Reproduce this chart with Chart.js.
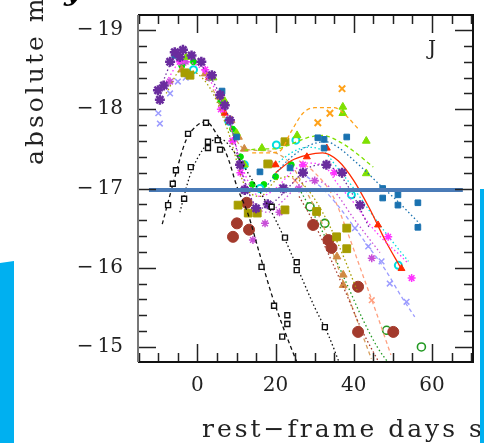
<!DOCTYPE html>
<html>
<head>
<meta charset="utf-8">
<script src="https://cdn.jsdelivr.net/npm/chart.js@4.4.0/dist/chart.umd.min.js"></script>
<style>
  html, body { margin: 0; padding: 0; background: #fff; }
  #wrap { position: relative; width: 484px; height: 443px; }
</style>
</head>
<body>
<div id="wrap"><canvas id="lcChart"></canvas></div>
<script>
// J band light curves: absolute mag vs rest-frame days
var xTickLabels = [0, 20, 40, 60];
var yTickLabels = [-19, -18, -17, -16, -15];

var refLineDays = [-12.4, 67.9];
var refLineMags = [-16.98, -16.98];

var blackADays = [-7.5, -6.3, -5.5, -2.4, 2.2, 16.4, 19.6, 23.0, 23.0, 21.7];
var blackAMags = [-16.79, -17.06, -17.23, -17.69, -17.83, -16.01, -15.52, -15.40, -15.29, -15.13];
var blackAFitDays = [-9, -6, -3, 0, 2.2, 5, 8, 10, 13, 16, 19, 22, 25.5];
var blackAFitMags = [-16.55, -17.1, -17.6, -17.8, -17.84, -17.68, -17.36, -17.04, -16.67, -16.16, -15.66, -15.24, -14.8];

var blackBDays = [-3.4, -1.7, 2.7, 2.7, 5.2, 5.8, 19.0, 22.4, 25.4, 25.4, 32.6];
var blackBMags = [-16.87, -17.27, -17.51, -17.59, -17.61, -17.49, -16.77, -16.38, -16.07, -15.97, -15.25];
var blackBFitDays = [-4.5, -2, 0, 3, 6, 10, 14, 18, 22, 26, 30, 33.5, 36.3];
var blackBFitMags = [-16.7, -17.15, -17.38, -17.58, -17.62, -17.42, -17.11, -16.79, -16.4, -15.95, -15.5, -15.15, -14.8];

var purpleDays = [-10.1, -9.6, -8.6, -7, -5.8, -4.5, -3.7, -1.5, 1, 3.7, 5.8, 7, 8.3, 10.9, 12.1, 15, 18, 22, 27, 33, 37, 41.6];
var purpleMags = [-18.24, -18.12, -18.3, -18.6, -18.72, -18.66, -18.75, -18.68, -18.6, -18.43, -18.18, -18.05, -17.86, -17.3, -16.98, -16.75, -16.8, -17.0, -17.2, -17.3, -17.2, -16.79];
var purpleFitDays = [-10, -6, -3, 0, 4, 8, 12, 16, 20, 24, 28, 32, 36, 40, 44];
var purpleFitMags = [-18.2, -18.65, -18.72, -18.6, -18.35, -17.9, -17.1, -16.75, -16.85, -17.05, -17.25, -17.3, -17.2, -16.9, -16.5];

var blueDays = [-5.8, 6.3, 10.0, 16, 23.7, 30.8, 32.4, 32.4, 38.2, 47.4, 47.4, 51.3, 51.3, 56.4, 56.4];
var blueMags = [-18.68, -18.23, -17.65, -17.21, -17.26, -17.64, -17.62, -17.51, -17.65, -17.0, -16.88, -16.92, -16.79, -16.82, -16.51];
var blueFitDays = [18, 22, 26, 30, 33, 36, 39, 43, 47, 51, 55, 57];
var blueFitMags = [-17.05, -17.3, -17.47, -17.57, -17.59, -17.52, -17.4, -17.22, -17.03, -16.85, -16.65, -16.55];

var orangeDays = [30.8, 33.9, 37.0];
var orangeMags = [-17.83, -17.95, -18.26];
var orangeFitDays = [14, 18, 21, 24, 27, 30, 35, 38, 41];
var orangeFitMags = [-17.45, -17.45, -17.47, -17.72, -17.95, -18.02, -18.02, -17.92, -17.76];

var limeDays = [-2.9, 4, 7, 10, 12, 16.5, 25.5, 37.2, 37.2, 43.2, 43.2];
var limeMags = [-18.66, -18.4, -18.1, -17.7, -17.3, -17.51, -17.67, -18.03, -17.95, -17.6, -17.19];
var limeFitDays = [12, 16, 20, 24, 28, 32, 36, 40, 45];
var limeFitMags = [-17.48, -17.5, -17.5, -17.56, -17.64, -17.67, -17.6, -17.47, -17.27];

var oliveDays = [-3.2, -1.9, 10.4, 13.0, 15.3, 18.0, 22.4, 22.4, 30.5, 35.6, 38.2, 38.2];
var oliveMags = [-18.46, -18.43, -16.79, -16.69, -16.69, -17.31, -17.59, -16.73, -16.71, -16.39, -16.5, -16.24];
var oliveFitDays = [-8, -4, 0, 4, 8, 12, 16, 20, 24, 28, 32, 36, 40.8];
var oliveFitMags = [-18.2, -18.5, -18.45, -18.2, -17.7, -17.05, -16.9, -17.1, -17.15, -17.0, -16.7, -16.3, -15.72];

var brownDays = [9.1, 10.1, 13.2, 12.6, 29.6, 33.5, 34.3, 41.1, 41.1, 50.1];
var brownMags = [-16.39, -16.56, -16.48, -16.82, -16.54, -16.35, -16.25, -15.76, -15.19, -15.19];
var brownFitDays = [26, 30, 34, 38, 42, 46.5];
var brownFitMags = [-16.9, -16.55, -16.12, -15.68, -15.22, -14.8];

var magentaDays = [-4.5, 2, 6, 9, 11, 27, 35, 48.8, 54.8];
var magentaMags = [-18.6, -18.5, -18.0, -17.6, -17.2, -17.3, -17.2, -16.39, -15.87];
var magentaFitDays = [-8, -4, 0, 4, 8, 12, 16, 20, 24, 28, 32, 36, 40, 44, 48, 52, 54];
var magentaFitMags = [-18.35, -18.6, -18.55, -18.3, -17.85, -17.2, -16.9, -17.0, -17.2, -17.32, -17.3, -17.05, -16.82, -16.55, -16.33, -16.15, -16.05];

var orchidDays = [-7, -3, 3, 9, 12, 14.2, 17.3, 21, 26, 30, 44.6];
var orchidMags = [-18.35, -18.6, -18.4, -17.6, -17.0, -16.35, -16.56, -16.7, -17.0, -17.1, -16.12];
var orchidFitDays = [10, 14, 18, 22, 26, 30, 34.7, 40, 46.7];
var orchidFitMags = [-17.45, -16.85, -16.7, -16.85, -17.05, -17.1, -16.98, -16.62, -16.19];

var redDays = [3, 7, 20, 28, 33.1, 46.2, 52.2];
var redMags = [-18.4, -17.95, -17.3, -17.4, -17.51, -16.54, -15.99];
var redFitDays = [20, 24, 28, 32, 36, 40, 44, 48, 52];
var redFitMags = [-17.2, -17.35, -17.42, -17.45, -17.35, -17.1, -16.75, -16.35, -16.0];

var cyanDays = [-1, 8, 12, 16, 20.2, 25.2, 39.4, 51.4];
var cyanMags = [-18.5, -17.85, -17.3, -17.0, -17.55, -17.61, -16.92, -16.03];
var cyanFitDays = [20, 24, 28, 32, 36, 40, 44, 48, 52, 54];
var cyanFitMags = [-17.3, -17.45, -17.52, -17.48, -17.25, -17.0, -16.72, -16.45, -16.2, -16.08];

var lavDays = [-10, -9.6, -7, -5, -3, 40.3, 43.7, 47.1, 49.2, 53.5];
var lavMags = [-17.95, -17.82, -18.2, -18.35, -18.4, -16.5, -16.27, -16.08, -15.8, -15.57];
var lavFitDays = [28, 32, 36, 40, 44, 48, 52, 55.6];
var lavFitMags = [-17.15, -17.0, -16.78, -16.52, -16.25, -15.98, -15.65, -15.38];

var peruDays = [-4, 2, 6, 8.6, 10.5, 12, 19, 35.7, 37.3, 37.3];
var peruMags = [-18.5, -18.45, -18.15, -17.86, -17.65, -17.5, -17.3, -16.14, -15.91, -15.78];
var peruFitDays = [4, 8, 12, 16, 20, 24, 28, 32, 36, 40, 44.5];
var peruFitMags = [-18.25, -17.8, -17.5, -17.48, -17.45, -17.3, -16.95, -16.55, -16.0, -15.45, -14.85];

var salmonDays = [25, 44.6];
var salmonMags = [-17.1, -15.59];
var salmonFitDays = [26, 30, 34.7, 38, 42, 46, 49.5];
var salmonFitMags = [-17.35, -17.2, -16.9, -16.5, -15.95, -15.4, -14.9];

var greenDays = [28.8, 32.6, 48.4, 57.3];
var greenMags = [-16.77, -16.56, -15.21, -15.0];
var greenFitDays = [26, 30, 34, 38, 42, 46, 48.8];
var greenFitMags = [-17.0, -16.65, -16.25, -15.82, -15.38, -15.0, -14.8];

var brightDays = [-4, -1, 3, 6, 9, 11, 14, 17, 20, 24];
var brightMags = [-18.55, -18.6, -18.4, -18.1, -17.75, -17.4, -17.05, -17.05, -17.15, -17.3];

function pts(days, mags) {
    var out = [];
    for (var i = 0; i < days.length; i++) {
        out.push({x: days[i], y: mags[i]});
    }
    return out;
}

function markSet(days, mags, style, color, fill, r, bw) {
    return {
        data: pts(days, mags),
        showLine: false,
        pointStyle: style,
        pointRadius: r,
        borderColor: color,
        backgroundColor: fill,
        borderWidth: bw
    };
}

function fitLine(days, mags, color, dash) {
    return {
        data: pts(days, mags),
        showLine: true,
        borderColor: color,
        borderWidth: 1.3,
        borderDash: dash,
        pointRadius: 0,
        fill: false,
        cubicInterpolationMode: 'monotone'
    };
}

var DASH = [4, 3], DOT = [1.5, 2.5];

var datasets = [
    {data: pts(refLineDays, refLineMags), showLine: true, borderColor: '#4a7bb7', borderWidth: 4, pointRadius: 0},
    markSet(blackADays, blackAMags, 'rect', '#111', '#fff', 3.5, 1.4),
    fitLine(blackAFitDays, blackAFitMags, '#111', DASH),
    markSet(blackBDays, blackBMags, 'rect', '#111', '#fff', 3.5, 1.4),
    fitLine(blackBFitDays, blackBFitMags, '#111', DOT),
    markSet(purpleDays, purpleMags, 'star', '#6a2c9e', '#6a2c9e', 5, 2.5),
    fitLine(purpleFitDays, purpleFitMags, '#6a2c9e', DOT),
    markSet(blueDays, blueMags, 'rect', '#1a72b0', '#1a72b0', 4, 1),
    fitLine(blueFitDays, blueFitMags, '#1a72b0', DOT),
    markSet(orangeDays, orangeMags, 'crossRot', '#ffa21a', '#ffa21a', 4.5, 2),
    fitLine(orangeFitDays, orangeFitMags, '#ffa21a', DASH),
    markSet(limeDays, limeMags, 'triangle', '#7ee000', '#7ee000', 4.5, 1),
    fitLine(limeFitDays, limeFitMags, '#7ee000', DASH),
    markSet(oliveDays, oliveMags, 'rect', '#a69d00', '#a69d00', 5.5, 1),
    fitLine(oliveFitDays, oliveFitMags, '#a69d00', DOT),
    markSet(brownDays, brownMags, 'circle', '#a33a2c', '#a33a2c', 5.5, 1),
    fitLine(brownFitDays, brownFitMags, '#a33a2c', DOT),
    markSet(magentaDays, magentaMags, 'star', '#ff33ff', '#ff33ff', 4, 1.5),
    fitLine(magentaFitDays, magentaFitMags, '#ff33ff', DOT),
    markSet(orchidDays, orchidMags, 'star', '#c84fd8', '#c84fd8', 4, 1.5),
    fitLine(orchidFitDays, orchidFitMags, '#c84fd8', DOT),
    markSet(redDays, redMags, 'triangle', '#ff2a00', '#ff2a00', 4, 1),
    fitLine(redFitDays, redFitMags, '#ff2a00', []),
    markSet(cyanDays, cyanMags, 'circle', '#00dede', '#fff', 3.5, 2),
    fitLine(cyanFitDays, cyanFitMags, '#00dede', DOT),
    markSet(lavDays, lavMags, 'crossRot', '#9c9cff', '#9c9cff', 4, 1.5),
    fitLine(lavFitDays, lavFitMags, '#9c9cff', DASH),
    markSet(peruDays, peruMags, 'triangle', '#d08a42', '#d08a42', 4.5, 1),
    fitLine(peruFitDays, peruFitMags, '#d8a060', DASH),
    markSet(salmonDays, salmonMags, 'crossRot', '#ffa080', '#ffa080', 4, 1.5),
    fitLine(salmonFitDays, salmonFitMags, '#ffa080', DASH),
    markSet(greenDays, greenMags, 'circle', '#229922', '#fff', 4, 1.6),
    fitLine(greenFitDays, greenFitMags, '#229922', DOT),
    markSet(brightDays, brightMags, 'circle', '#00e000', '#00e000', 3, 1)
];

// frame, inward ticks, axis titles and the overlay bars
var decorations = {
    id: 'decorations',
    afterDraw: function(chart) {
        var ctx = chart.ctx,
            a = chart.chartArea,
            xs = chart.scales.x,
            ys = chart.scales.y;
        ctx.save();

        ctx.lineWidth = 1.5;
        ctx.strokeStyle = '#222';
        for (var d = -15; d <= 70; d += 5) {
            var px = Math.round(xs.getPixelForValue(d)) + 0.5;
            var len = d % 20 === 0 ? 18 : 9;
            ctx.beginPath();
            ctx.moveTo(px, a.top); ctx.lineTo(px, a.top + len);
            ctx.moveTo(px, a.bottom); ctx.lineTo(px, a.bottom - len);
            ctx.stroke();
        }
        for (var k = -95; k <= -75; k++) {
            var py = Math.round(ys.getPixelForValue(k / 5)) + 0.5;
            var ylen = k % 5 === 0 ? 18 : 9;
            ctx.beginPath();
            ctx.moveTo(a.left, py); ctx.lineTo(a.left + ylen, py);
            ctx.moveTo(a.right, py); ctx.lineTo(a.right - ylen, py);
            ctx.stroke();
        }

        ctx.lineWidth = 2;
        ctx.strokeStyle = '#111';
        ctx.beginPath();
        ctx.moveTo(a.left, a.top); ctx.lineTo(a.right, a.top);
        ctx.lineTo(a.right, a.bottom); ctx.lineTo(a.left, a.bottom);
        ctx.stroke();
        ctx.strokeStyle = '#777';
        ctx.beginPath();
        ctx.moveTo(a.left, a.top); ctx.lineTo(a.left, a.bottom);
        ctx.stroke();

        ctx.fillStyle = '#222';
        ctx.font = '20px "DejaVu Serif"';
        ctx.textAlign = 'center';
        ctx.textBaseline = 'alphabetic';
        ctx.fillText('J', 432, 55);

        ctx.font = '25px "DejaVu Serif"';
        ctx.letterSpacing = '3px';
        ctx.textAlign = 'left';
        ctx.fillText('rest\u2212frame days since maximum', 202, 437);

        ctx.save();
        ctx.translate(43, 165);
        ctx.rotate(-Math.PI / 2);
        ctx.fillText('absolute magnitude', 0, 0);
        ctx.restore();

        ctx.letterSpacing = '0px';
        ctx.fillStyle = '#000';
        ctx.font = 'bold italic 30px "DejaVu Serif"';
        ctx.fillText('y', 64, 0);

        ctx.fillStyle = '#00b0f0';
        ctx.beginPath();
        ctx.moveTo(0, 263); ctx.lineTo(14, 261); ctx.lineTo(14, 443); ctx.lineTo(0, 443);
        ctx.fill();
        ctx.fillRect(480, 189, 4, 254);

        ctx.restore();
    }
};

var ctx = document.getElementById('lcChart').getContext('2d');
var lcChart = new Chart(ctx, {
    type: 'scatter',
    data: {datasets: datasets},
    options: {
        responsive: true,
        maintainAspectRatio: false,
        animation: false,
        layout: {padding: {top: 15, right: 11, left: 0, bottom: 0}},
        plugins: {legend: {display: false}, tooltip: {enabled: false}},
        scales: {
            x: {
                type: 'linear',
                min: -15.2,
                max: 70.5,
                grid: {display: false, drawTicks: false},
                border: {display: false},
                afterBuildTicks: function(s) {
                    s.ticks = xTickLabels.map(function(v) { return {value: v}; });
                },
                afterFit: function(s) {
                    s.height = 81;
                    s.paddingLeft = 0;
                    s.paddingRight = 0;
                },
                ticks: {
                    padding: 12,
                    autoSkip: false,
                    maxRotation: 0,
                    color: '#222',
                    font: {family: 'DejaVu Serif', size: 20},
                    callback: function(v) { return String(v); }
                }
            },
            y: {
                type: 'linear',
                reverse: true,
                min: -19.19,
                max: -14.81,
                grid: {display: false, drawTicks: false},
                border: {display: false},
                afterBuildTicks: function(s) {
                    s.ticks = yTickLabels.map(function(v) { return {value: v}; });
                },
                afterFit: function(s) {
                    s.width = 138;
                    s.paddingTop = 0;
                    s.paddingBottom = 0;
                },
                ticks: {
                    padding: 15,
                    autoSkip: false,
                    color: '#222',
                    font: {family: 'DejaVu Serif', size: 20},
                    callback: function(v) { return '\u2212\u2009' + Math.abs(v); }
                }
            }
        }
    },
    plugins: [decorations]
});
</script>
</body>
</html>
